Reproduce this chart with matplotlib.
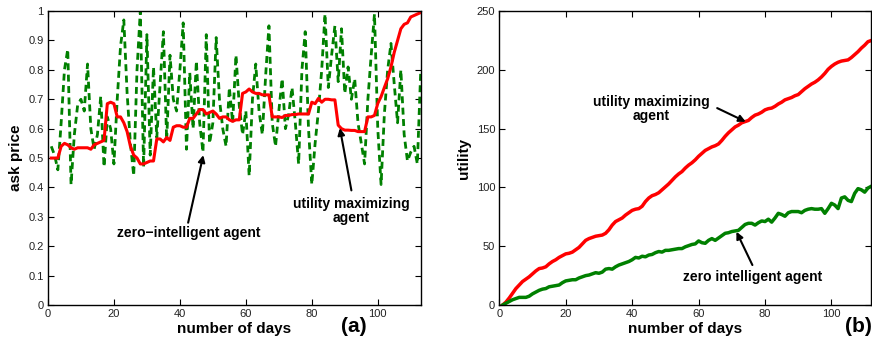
import matplotlib
matplotlib.use("Agg")
import matplotlib.pyplot as plt
import numpy as np

plt.rcParams['font.family'] = ['Liberation Sans', 'DejaVu Sans']

# ---------------- data (a) ----------------
days_a = list(range(1, 114))
ask_utility = [0.50, 0.50, 0.50, 0.54, 0.55, 0.545, 0.535, 0.53, 0.535, 0.535,
               0.535, 0.535, 0.53, 0.545, 0.55, 0.555, 0.56, 0.685, 0.69, 0.685,
               0.64, 0.64, 0.62, 0.59, 0.54, 0.51, 0.50, 0.48, 0.48, 0.485,
               0.49, 0.49, 0.565, 0.565, 0.555, 0.57, 0.56, 0.605, 0.61, 0.61,
               0.605, 0.605, 0.635, 0.635, 0.65, 0.665, 0.665, 0.65, 0.655, 0.66,
               0.65, 0.635, 0.64, 0.64, 0.63, 0.625, 0.63, 0.63, 0.72, 0.725,
               0.735, 0.725, 0.72, 0.72, 0.715, 0.715, 0.715, 0.64, 0.64, 0.64,
               0.638, 0.645, 0.645, 0.648, 0.648, 0.65, 0.65, 0.65, 0.65, 0.69,
               0.685, 0.703, 0.69, 0.70, 0.70, 0.698, 0.698, 0.612, 0.60, 0.595,
               0.595, 0.594, 0.594, 0.59, 0.59, 0.59, 0.64, 0.64, 0.645, 0.686,
               0.709, 0.74, 0.77, 0.81, 0.86, 0.90, 0.94, 0.955, 0.96, 0.98,
               0.985, 0.99, 0.995]
ask_zero = [0.54, 0.51, 0.46, 0.62, 0.80, 0.87, 0.41, 0.58, 0.68, 0.70,
            0.66, 0.82, 0.60, 0.53, 0.58, 0.71, 0.47, 0.64, 0.60, 0.48,
            0.70, 0.88, 0.97, 0.72, 0.55, 0.44, 0.80, 1.00, 0.47, 0.92,
            0.51, 0.81, 0.57, 0.75, 0.93, 0.56, 0.85, 0.70, 0.66, 0.80,
            0.96, 0.53, 0.79, 0.60, 0.83, 0.62, 0.52, 0.92, 0.55, 0.62,
            0.91, 0.70, 0.60, 0.54, 0.74, 0.62, 0.85, 0.68, 0.58, 0.66,
            0.44, 0.70, 0.82, 0.66, 0.58, 0.78, 0.95, 0.62, 0.54, 0.66,
            0.77, 0.60, 0.65, 0.74, 0.62, 0.48, 0.80, 0.93, 0.60, 0.41,
            0.55, 0.66, 0.80, 0.99, 0.74, 0.85, 0.95, 0.76, 0.94, 0.72,
            0.81, 0.70, 0.77, 0.62, 0.55, 0.48, 0.70, 0.85, 0.99, 0.60,
            0.41, 0.65, 0.80, 0.89, 0.75, 0.62, 0.80, 0.58, 0.49, 0.52,
            0.54, 0.48, 0.79]

# ---------------- data (b) ----------------
days_b = list(range(1, 113))
util_max = [0, 2.5, 6, 10, 14, 17, 20, 22, 24, 26.5,
            29, 31, 31.5, 32.5, 35, 37, 38.5, 40.5, 42, 43.5,
            44, 45, 47, 49, 52, 55, 56.5, 57.5, 58.5, 59,
            59.5, 61, 64, 68, 71, 72.5, 74, 76.5, 78.5, 80.5,
            81.5, 82, 84, 88, 91, 93, 94, 95.5, 98, 100.5,
            103, 106, 109, 111.5, 113.5, 116.5, 119, 121, 123.5, 126.5,
            129, 131.5, 133, 134.5, 135.5, 137, 140, 143.5, 146.5, 149,
            151.5, 153, 155, 156, 157, 159.5, 161.5, 162.5, 164, 166,
            167, 167.5, 169, 171, 172.5, 174.5, 175.5, 176.5, 178, 179,
            181.5, 184, 186, 188, 189.5, 191.5, 194, 197, 200.5, 203,
            205, 206.5, 207.5, 208, 208.5, 210.5, 213, 215.5, 218.5, 221,
            224, 225]
util_zero = [0, 1.5, 3, 4.5, 5.5, 6.5, 6.5, 6.5, 7.5, 9.5,
             11, 12.5, 13.5, 14, 15.5, 16, 16.5, 17, 19, 20.5,
             21, 21.5, 21.5, 23, 24, 25, 25.5, 26.5, 27.5, 27,
             28, 30.5, 31, 30.5, 32.5, 34, 35, 36, 37, 38.5,
             40.5, 40, 41.5, 41, 42.5, 43, 44.5, 45.5, 45, 46.5,
             46.5, 47, 47.5, 48, 48, 49.5, 50.5, 51.5, 52, 54.5,
             53, 52.5, 55, 56.5, 55, 57, 59, 61, 61.5, 62.5,
             63, 63.5, 66, 68.5, 69.5, 69.5, 68, 70, 71.5, 71,
             73, 70.5, 74, 78, 77, 75.5, 78.5, 79.5, 79.5, 79.5,
             78.5, 80.5, 81.5, 82, 81.5, 81.5, 82, 78, 82, 86.5,
             85, 82, 91, 92, 89, 88, 95, 99, 98, 96,
             99.5, 101]

xticks = [0, 20, 40, 60, 80, 100]
yticks_a = [0, 0.1, 0.2, 0.3, 0.4, 0.5, 0.6, 0.7, 0.8, 0.9, 1]
yticklabels_a = ['0', '0.1', '0.2', '0.3', '0.4', '0.5', '0.6', '0.7', '0.8', '0.9', '1']
yticks_b = [0, 50, 100, 150, 200, 250]

RED = '#ff0000'
GREEN = '#008000'

fig = plt.figure(figsize=(8.72, 3.47), dpi=100)
axa = fig.add_axes([0.055, 0.121, 0.4274, 0.847])
axb = fig.add_axes([0.5726, 0.121, 0.4266, 0.847])

def style(ax):
    ax.tick_params(direction='in', top=True, right=True, length=4, width=0.8,
                   labelsize=8, labelcolor='#222222', pad=3)
    for s in ax.spines.values():
        s.set_linewidth(1.0)
    ax.set_xticks(xticks)

# (a)
axa.plot(days_a, ask_zero, color=GREEN, lw=2.0, dashes=(2.5, 1.6))
axa.plot(days_a, ask_utility, color=RED, lw=2.2)
axa.set_xlim(0, 113)
axa.set_ylim(0, 1)
style(axa)
axa.set_yticks(yticks_a)
axa.set_yticklabels(yticklabels_a)
axa.set_xlabel('number of days', fontsize=11, fontweight='bold', labelpad=2)
axa.set_ylabel('ask price', fontsize=11, fontweight='bold', labelpad=4)
axa.annotate('', xy=(47.1, 0.51), xytext=(42.5, 0.28),
             arrowprops=dict(arrowstyle='-|>', color='black', lw=1.5,
                             mutation_scale=10, shrinkA=0, shrinkB=0))
axa.text(42.7, 0.245, 'zero\u2212intelligent agent', fontsize=10, fontweight='bold',
         ha='center', va='center')
axa.annotate('', xy=(88.5, 0.602), xytext=(92, 0.39),
             arrowprops=dict(arrowstyle='-|>', color='black', lw=1.5,
                             mutation_scale=10, shrinkA=0, shrinkB=0))
axa.text(92, 0.32, 'utility maximizing\nagent', fontsize=10, fontweight='bold',
         ha='center', va='center', linespacing=1.0)
fig.text(354 / 872, 1 - 326 / 347, '(a)', fontsize=15, fontweight='bold',
         ha='center', va='center')

# (b)
axb.plot(days_b, util_max, color=RED, lw=2.5)
axb.plot(days_b, util_zero, color=GREEN, lw=2.5)
axb.set_xlim(0, 112)
axb.set_ylim(0, 250)
style(axb)
axb.set_yticks(yticks_b)
axb.set_xlabel('number of days', fontsize=11, fontweight='bold', labelpad=2)
axb.set_ylabel('utility', fontsize=11, fontweight='bold', labelpad=4)
axb.text(45.7, 166.7, 'utility maximizing\nagent', fontsize=10, fontweight='bold',
         ha='center', va='center', linespacing=1.0)
axb.annotate('', xy=(74.2, 155.9), xytext=(65.6, 167.5),
             arrowprops=dict(arrowstyle='-|>', color='black', lw=1.5,
                             mutation_scale=10, shrinkA=0, shrinkB=0))
axb.text(76.4, 24, 'zero intelligent agent', fontsize=10, fontweight='bold',
         ha='center', va='center')
axb.annotate('', xy=(71.4, 62.3), xytext=(76.2, 34),
             arrowprops=dict(arrowstyle='-|>', color='black', lw=1.5,
                             mutation_scale=10, shrinkA=0, shrinkB=0))
fig.text(858 / 872, 1 - 326 / 347, '(b)', fontsize=15, fontweight='bold',
         ha='center', va='center')

fig.savefig('out.png', dpi=100)
